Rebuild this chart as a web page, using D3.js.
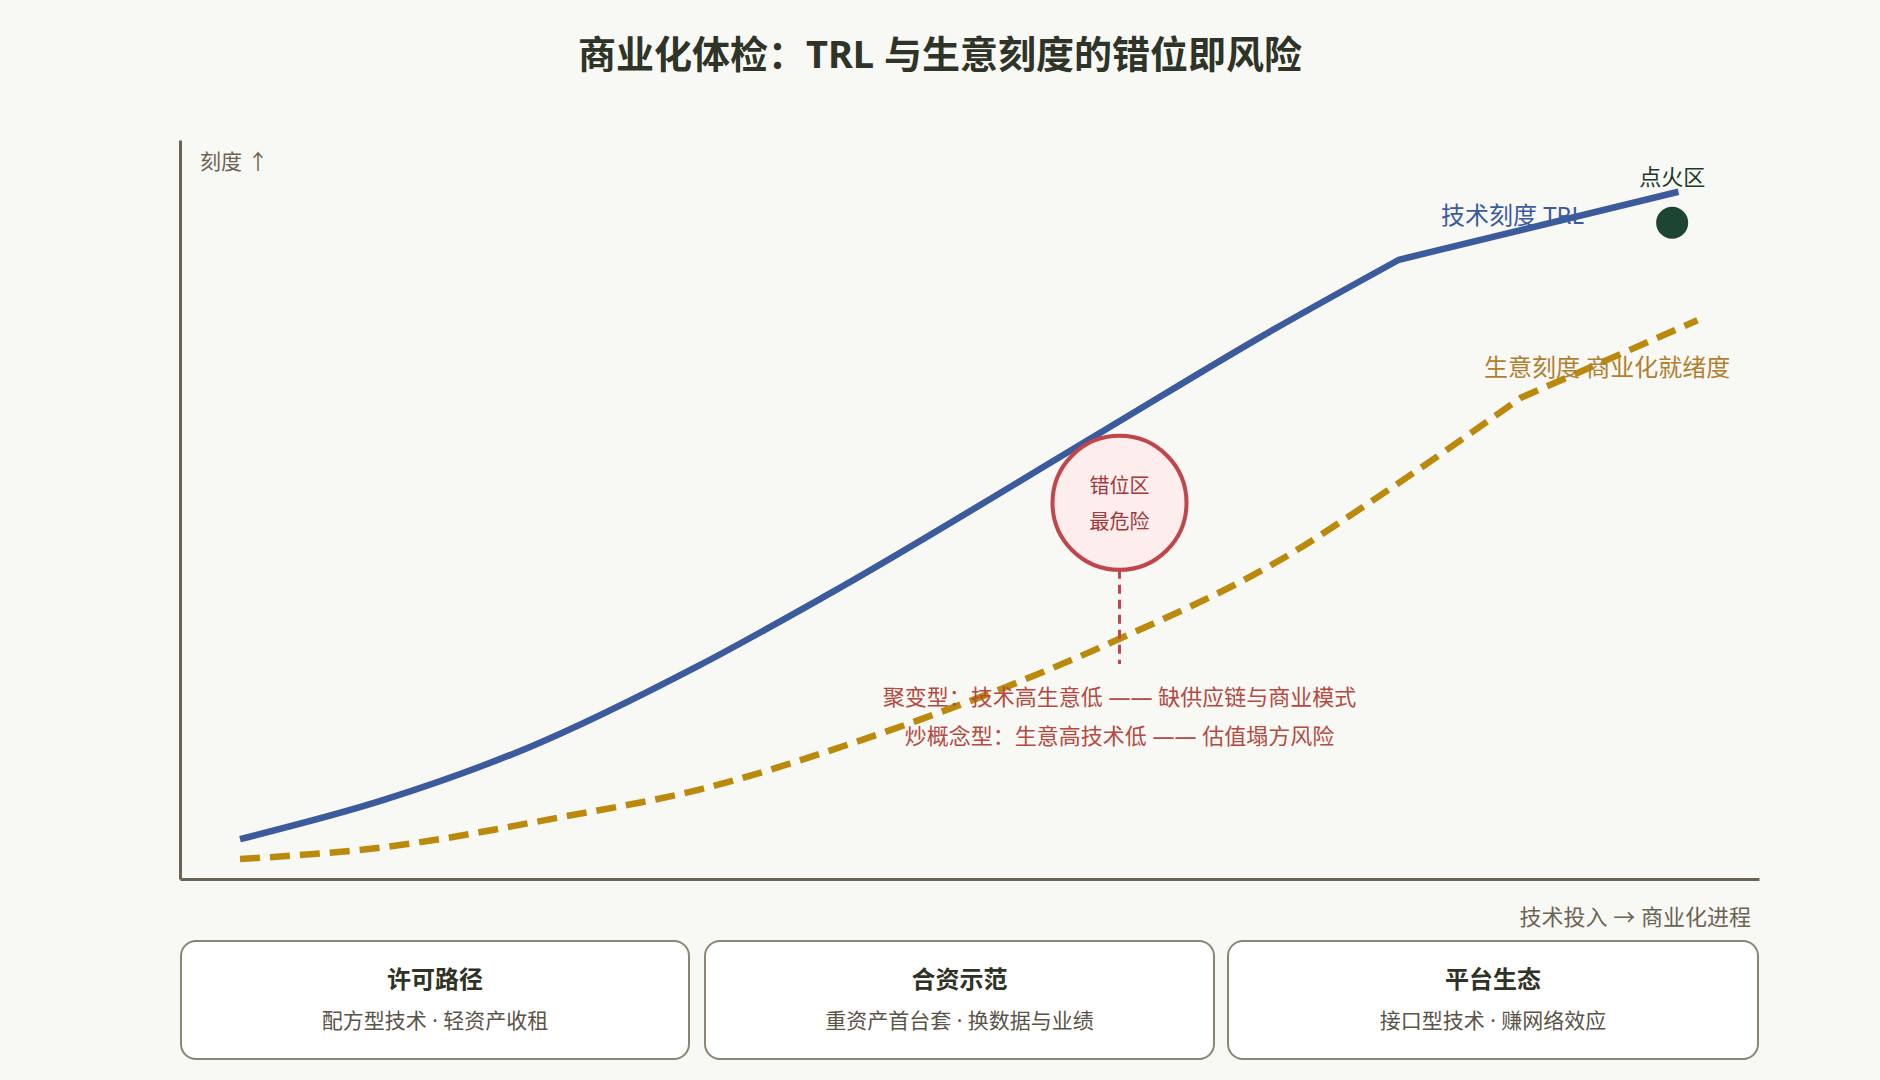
<!DOCTYPE html>
<html>
<head>
<meta charset="utf-8">
<title>商业化体检</title>
<script src="https://cdn.jsdelivr.net/npm/d3@7/dist/d3.min.js"></script>
<style>
body { margin: 0; background: #f8f8f4; }
text { font-family: "Noto Sans", "Noto Sans CJK SC", sans-serif; }
</style>
</head>
<body>
<script type="text/javascript">

// curves (x = 技术投入 0-100, y = 刻度 0-100)
var techX = [3.8, 12.9, 22.2, 32.7, 40.8, 58.6, 68.4, 77.2, 94.9];
var techY = [5.4, 10.7, 17.9, 28.7, 38.2, 60.8, 73.3, 83.8, 93.0];
var techKink = 7;

var bizX = [3.8, 12.9, 24.2, 32.7, 42.6, 59.5, 69.7, 76.7, 84.9, 96.1];
var bizY = [2.7, 4.3, 8.4, 12.0, 18.4, 32.5, 43.2, 52.9, 65.1, 75.6];
var bizKink = 8;

var mismatchAt = [59.5, 50.9];
var ignitionAt = [94.5, 88.8];

var riskLabel = ["错位区", "最危险"];
var mismatchNotes = ["聚变型：技术高生意低 —— 缺供应链与商业模式",
                     "炒概念型：生意高技术低 —— 估值塌方风险"];

var paths = ["许可路径", "合资示范", "平台生态"];
var pathNotes = ["配方型技术 · 轻资产收租", "重资产首台套 · 换数据与业绩", "接口型技术 · 赚网络效应"];

var width = 1880;
var height = 1080;

var svg = d3.select("body")
            .append("svg")
            .attr("width", width)
            .attr("height", height);

svg.append("rect")
   .attr("width", width)
   .attr("height", height)
   .attr("fill", "#f8f8f4");

var xScale = d3.scaleLinear().domain([0, 100]).range([180, 1759]);
var yScale = d3.scaleLinear().domain([0, 100]).range([879, 140]);

// title
svg.append("text")
   .attr("x", width / 2)
   .attr("y", 68)
   .attr("text-anchor", "middle")
   .attr("font-size", 38)
   .attr("font-weight", "bold")
   .attr("fill", "#2f3428")
   .text("商业化体检：TRL 与生意刻度的错位即风险");

// axes, no ticks
var gAxis = svg.append("g");
gAxis.append("g")
     .attr("transform", "translate(0," + yScale(0) + ")")
     .call(d3.axisBottom(xScale).ticks(0).tickSizeOuter(0));
gAxis.append("g")
     .attr("transform", "translate(" + xScale(0) + ",0)")
     .call(d3.axisLeft(yScale).ticks(0).tickSizeOuter(0));
gAxis.selectAll(".domain")
     .attr("stroke", "#6b6454")
     .attr("stroke-width", 3);

svg.append("text")
   .attr("x", 200)
   .attr("y", 169)
   .attr("font-size", 21)
   .attr("fill", "#6b6454")
   .text("刻度 ↑");

svg.append("text")
   .attr("x", 1751)
   .attr("y", 925)
   .attr("text-anchor", "end")
   .attr("font-size", 22)
   .attr("fill", "#6b6454")
   .text("技术投入 → 商业化进程");

// smooth up to the kink, straight after it
function curvePath(xs, ys, kink){
    var pts = xs.map(function(x, i){
        return [xScale(x), yScale(ys[i])];
    });
    var smooth = d3.line().curve(d3.curveMonotoneX)(pts.slice(0, kink + 1));
    var tail = d3.line()(pts.slice(kink));
    return smooth + tail.replace(/^M[^L]*/, "");
}

var gLine = svg.append("g").attr("fill", "none");

gLine.append("path")
     .attr("d", curvePath(bizX, bizY, bizKink))
     .attr("stroke", "#bb8a0c")
     .attr("stroke-width", 6.5)
     .attr("stroke-dasharray", "20,10");

gLine.append("path")
     .attr("d", curvePath(techX, techY, techKink))
     .attr("stroke", "#3b5b9d")
     .attr("stroke-width", 6.5);

svg.append("text")
   .attr("x", 1441)
   .attr("y", 224)
   .attr("font-size", 24)
   .attr("fill", "#3b5b9d")
   .text("技术刻度 TRL");

svg.append("text")
   .attr("x", 1484)
   .attr("y", 376)
   .attr("font-size", 24)
   .attr("fill", "#b07f2f")
   .text("生意刻度 商业化就绪度");

// ignition point
svg.append("circle")
   .attr("cx", xScale(ignitionAt[0]))
   .attr("cy", yScale(ignitionAt[1]))
   .attr("r", 16)
   .attr("fill", "#1c4532");

svg.append("text")
   .attr("x", xScale(ignitionAt[0]))
   .attr("y", yScale(ignitionAt[1]) - 38)
   .attr("text-anchor", "middle")
   .attr("font-size", 22)
   .attr("fill", "#1c3a2e")
   .text("点火区");

// mismatch bubble
var mx = xScale(mismatchAt[0]);
var my = yScale(mismatchAt[1]);
var r = 67;

svg.append("line")
   .attr("x1", mx)
   .attr("y1", my + r)
   .attr("x2", mx)
   .attr("y2", 664)
   .attr("stroke", "#c0464b")
   .attr("stroke-width", 3)
   .attr("stroke-dasharray", "9,6");

svg.append("circle")
   .attr("cx", mx)
   .attr("cy", my)
   .attr("r", r)
   .attr("fill", "#fdeded")
   .attr("stroke", "#c0464b")
   .attr("stroke-width", 4);

svg.selectAll(".risk")
   .data(riskLabel)
   .enter()
   .append("text")
   .attr("x", mx)
   .attr("y", function(d, i){
   return my - 10 + i * 36;
   })
   .attr("text-anchor", "middle")
   .attr("font-size", 20)
   .attr("fill", "#a23838")
   .text(function(d){ return d; });

svg.selectAll(".note")
   .data(mismatchNotes)
   .enter()
   .append("text")
   .attr("x", mx)
   .attr("y", function(d, i){
   return 705 + i * 39;
   })
   .attr("text-anchor", "middle")
   .attr("font-size", 22)
   .attr("fill", "#b44a42")
   .text(function(d){ return d; });

// three commercialisation paths
var boxX = [180, 704, 1227];
var boxW = [510, 511, 532];

var box = svg.selectAll(".box")
             .data(paths)
             .enter()
             .append("g")
             .attr("transform", function(d, i){
             return "translate(" + boxX[i] + ",940)";
             });

box.append("rect")
   .attr("x", 1)
   .attr("y", 1)
   .attr("width", function(d, i){ return boxW[i] - 2; })
   .attr("height", 118)
   .attr("rx", 15)
   .attr("fill", "#ffffff")
   .attr("stroke", "#8b8672")
   .attr("stroke-width", 2);

box.append("text")
   .attr("x", function(d, i){ return boxW[i] / 2; })
   .attr("y", 48)
   .attr("text-anchor", "middle")
   .attr("font-size", 24)
   .attr("font-weight", "bold")
   .attr("fill", "#2f3326")
   .text(function(d){ return d; });

box.append("text")
   .attr("x", function(d, i){ return boxW[i] / 2; })
   .attr("y", 88)
   .attr("text-anchor", "middle")
   .attr("font-size", 21)
   .attr("fill", "#5a5448")
   .text(function(d, i){ return pathNotes[i]; });

</script>
</body>
</html>
